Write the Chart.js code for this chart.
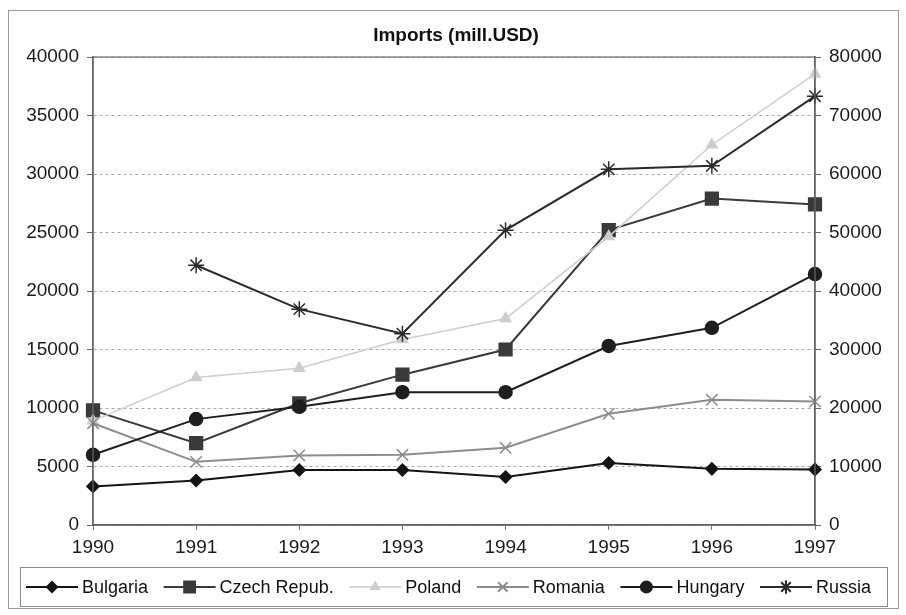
<!DOCTYPE html>
<html>
<head>
<meta charset="utf-8">
<title>Imports (mill.USD)</title>
<script src="https://cdn.jsdelivr.net/npm/chart.js@4/dist/chart.umd.min.js"></script>
<style>
  html, body { margin: 0; padding: 0; background: #ffffff; }
  #wrap { width: 906px; height: 615px; }
</style>
</head>
<body>
<div id="wrap"><canvas id="chart" width="906" height="615"></canvas></div>
<script>
// Imports in million USD, 1990-1997
const years = ['1990', '1991', '1992', '1993', '1994', '1995', '1996', '1997'];
const bulgaria = [3300, 3800, 4700, 4700, 4100, 5300, 4800, 4750];
const czech    = [9800, 7000, 10400, 12850, 15000, 25200, 27900, 27400];
const poland   = [8900, 12600, 13400, 15850, 17650, 24650, 32500, 38550];
const romania  = [8700, 5400, 5950, 6000, 6600, 9500, 10700, 10550];
const hungary  = [6000, 9050, 10100, 11350, 11350, 15300, 16850, 21450];
// Russia is plotted against the secondary (right) axis
const russia   = [null, 44400, 36900, 32700, 50400, 60800, 61400, 73300];

const titleText = 'Imports (mill.USD)';
const FONT = '"Liberation Sans", Arial, sans-serif';

const PLOT = { left: 93, right: 815, top: 57, bottom: 525 };

function series(label, data, color, style, radius, axis, order, width) {
  return {
    label, data, yAxisID: axis, order,
    borderColor: color, backgroundColor: color,
    borderWidth: width || 2,
    pointStyle: style, pointRadius: radius, pointHoverRadius: radius,
    pointBorderColor: color, pointBackgroundColor: color, pointBorderWidth: 1.5,
    tension: 0, spanGaps: false, clip: false
  };
}

const datasets = [
  series('Bulgaria', bulgaria, '#141414', 'rectRot', 6, 'y', 6),
  series('Czech Repub.', czech, '#3a3a3a', 'rect', 9, 'y', 5),
  series('Poland', poland, '#cdcdcd', 'triangle', 6, 'y', 4, 1.5),
  series('Romania', romania, '#8c8c8c', 'crossRot', 8, 'y', 3),
  series('Hungary', hungary, '#1e1e1e', 'circle', 6.5, 'y', 2),
  series('Russia', russia, '#2a2a2a', 'star', 8, 'y2', 1)
];

// Frame, title and the line-and-marker legend along the bottom
const decorations = {
  id: 'decorations',
  afterDraw(chart) {
    const ctx = chart.ctx;
    const a = chart.chartArea;
    ctx.save();
    // outer frame
    ctx.strokeStyle = '#9a9a9a';
    ctx.lineWidth = 1;
    ctx.strokeRect(8.5, 10.5, 890, 598);
    // plot border
    ctx.strokeStyle = '#6a6a6a';
    ctx.lineWidth = 1.2;
    ctx.strokeRect(a.left, a.top, a.right - a.left, a.bottom - a.top);
    // title
    ctx.fillStyle = '#111';
    ctx.font = 'bold 19px ' + FONT;
    ctx.textAlign = 'center';
    ctx.textBaseline = 'middle';
    ctx.fillText(titleText, 456, 36);
    // legend box
    ctx.strokeStyle = '#8a8a8a';
    ctx.lineWidth = 1;
    ctx.strokeRect(20.5, 567.5, 867, 39);
    ctx.font = '18px ' + FONT;
    ctx.textAlign = 'left';
    const lineLen = 52, gapText = 4;
    const widths = chart.data.datasets.map(d => ctx.measureText(d.label).width);
    const startX = 26, endX = 871;
    const used = widths.reduce((s, w) => s + w + lineLen + gapText, 0);
    const gap = (endX - startX - used) / (widths.length - 1);
    let x = startX;
    const y = 587;
    chart.data.datasets.forEach((d, i) => {
      ctx.strokeStyle = d.borderColor;
      ctx.lineWidth = d.borderWidth;
      ctx.beginPath();
      ctx.moveTo(x, y);
      ctx.lineTo(x + lineLen, y);
      ctx.stroke();
      ctx.fillStyle = d.pointBackgroundColor;
      ctx.strokeStyle = d.pointBorderColor;
      Chart.helpers.drawPoint(ctx, {
        pointStyle: d.pointStyle, radius: d.pointRadius * 0.85, rotation: 0,
        borderWidth: d.pointBorderWidth
      }, x + lineLen / 2, y);
      ctx.fillStyle = '#111';
      ctx.fillText(d.label, x + lineLen + gapText, y + 1);
      x += lineLen + gapText + widths[i] + gap;
    });
    ctx.restore();
  }
};

const tickFont = { family: FONT, size: 19 };
const plainNumber = v => String(v);

new Chart(document.getElementById('chart'), {
  type: 'line',
  data: { labels: years, datasets },
  options: {
    responsive: false,
    animation: false,
    devicePixelRatio: 1,
    layout: { padding: { top: PLOT.top, bottom: 615 - PLOT.bottom - 40, left: 0, right: 0 } },
    plugins: { legend: { display: false }, title: { display: false }, tooltip: { enabled: false } },
    scales: {
      x: {
        type: 'category',
        offset: false,
        grid: { drawOnChartArea: false, drawTicks: true, tickLength: 5, color: '#777' },
        border: { color: '#555', width: 1.5 },
        ticks: { font: tickFont, color: '#1a1a1a', padding: 6, maxRotation: 0, autoSkip: false },
        afterFit(s) { s.height = 40; }
      },
      y: {
        position: 'left',
        min: 0, max: 40000,
        grid: { color: '#a8a8a8', lineWidth: 1, tickLength: 6, tickColor: '#666', tickBorderDash: [] },
        border: { color: '#555', width: 1.5, dash: [3, 3] },
        ticks: { stepSize: 5000, font: tickFont, color: '#1a1a1a', padding: 8, callback: plainNumber },
        afterFit(s) { s.width = PLOT.left; }
      },
      y2: {
        position: 'right',
        min: 0, max: 80000,
        grid: { drawOnChartArea: false, tickLength: 6, color: '#666' },
        border: { color: '#555', width: 1.5 },
        ticks: { stepSize: 10000, font: tickFont, color: '#1a1a1a', padding: 8, callback: plainNumber },
        afterFit(s) { s.width = 906 - PLOT.right; }
      }
    }
  },
  plugins: [decorations]
});
</script>
</body>
</html>
